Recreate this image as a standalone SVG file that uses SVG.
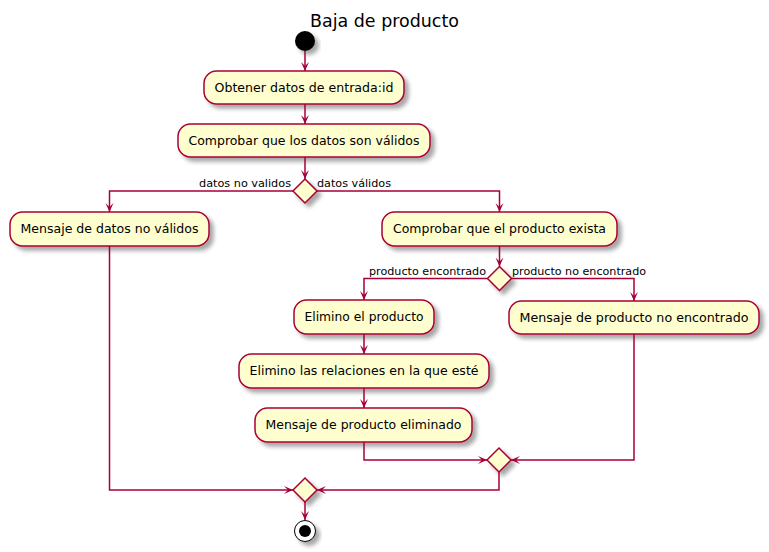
<svg xmlns="http://www.w3.org/2000/svg" width="769" height="552" viewBox="0 0 769 552">
<defs>
<filter id="sh" x="-20%" y="-30%" width="150%" height="180%">
<feGaussianBlur in="SourceAlpha" stdDeviation="2" result="b"/>
<feOffset in="b" dx="4" dy="4" result="o"/>
<feComponentTransfer in="o" result="s"><feFuncA type="linear" slope="0.35"/></feComponentTransfer>
<feMerge><feMergeNode in="s"/><feMergeNode in="SourceGraphic"/></feMerge>
</filter>
<marker id="ah" viewBox="0 0 10 10" refX="9" refY="5" markerWidth="10" markerHeight="10" markerUnits="userSpaceOnUse" orient="auto">
<path d="M0,1 L9,5 L0,9 L4,5 Z" fill="#A80036"/>
</marker>
</defs>
<style>
.box{fill:#FEFECE;stroke:#A80036;stroke-width:1.5;filter:url(#sh)}
.dia{fill:#FEFECE;stroke:#A80036;stroke-width:1.5;filter:url(#sh)}
.t{font-family:"DejaVu Sans",sans-serif;font-size:12.6px;fill:#000;text-anchor:middle}
.l{font-family:"DejaVu Sans",sans-serif;font-size:11px;fill:#000}
.c{fill:none;stroke:#A80036;stroke-width:1.5;marker-end:url(#ah)}
</style>
<rect width="769" height="552" fill="#FFFFFF"/>
<text x="384.5" y="27" font-family="DejaVu Sans, sans-serif" font-size="18" text-anchor="middle" textLength="149" lengthAdjust="spacingAndGlyphs">Baja de producto</text>

<g id="start"><circle cx="305" cy="41" r="10" fill="#000" filter="url(#sh)"/></g>

<g id="n1"><rect class="box" x="204" y="71" width="200" height="33" rx="12.5"/><text class="t" x="304" y="92" textLength="179" lengthAdjust="spacingAndGlyphs">Obtener datos de entrada:id</text></g>
<g id="n2"><rect class="box" x="178" y="124" width="252" height="33" rx="12.5"/><text class="t" x="304" y="145" textLength="231" lengthAdjust="spacingAndGlyphs">Comprobar que los datos son válidos</text></g>
<g id="d1"><polygon class="dia" points="305,179 317,191 305,203 293,191"/></g>
<g id="n3"><rect class="box" x="10" y="212" width="199" height="34" rx="12.5"/><text class="t" x="109.5" y="233" textLength="178" lengthAdjust="spacingAndGlyphs">Mensaje de datos no válidos</text></g>
<g id="n4"><rect class="box" x="382" y="212" width="235" height="34" rx="12.5"/><text class="t" x="499.5" y="233" textLength="213" lengthAdjust="spacingAndGlyphs">Comprobar que el producto exista</text></g>
<g id="d2"><polygon class="dia" points="499.5,266.5 511.5,278.5 499.5,290.5 487.5,278.5"/></g>
<g id="n5"><rect class="box" x="294" y="300" width="140" height="34" rx="12.5"/><text class="t" x="364" y="321" textLength="119" lengthAdjust="spacingAndGlyphs">Elimino el producto</text></g>
<g id="n6"><rect class="box" x="509" y="301" width="250" height="33" rx="12.5"/><text class="t" x="634" y="322" textLength="229" lengthAdjust="spacingAndGlyphs">Mensaje de producto no encontrado</text></g>
<g id="n7"><rect class="box" x="239" y="354" width="250" height="34" rx="12.5"/><text class="t" x="364" y="375" textLength="229" lengthAdjust="spacingAndGlyphs">Elimino las relaciones en la que esté</text></g>
<g id="n8"><rect class="box" x="255" y="408" width="217" height="34" rx="12.5"/><text class="t" x="363.5" y="429" textLength="196" lengthAdjust="spacingAndGlyphs">Mensaje de producto eliminado</text></g>
<g id="m2"><polygon class="dia" points="499,448 511,460 499,472 487,460"/></g>
<g id="m1"><polygon class="dia" points="305,478 317,490 305,502 293,490"/></g>
<g id="end"><circle cx="305" cy="531" r="10.5" fill="#FFFFFF" stroke="#000" stroke-width="1" filter="url(#sh)"/><circle cx="305" cy="531" r="6" fill="#000"/></g>

<g id="connectors">
<path class="c" d="M305,51 L305,71"/>
<path class="c" d="M305,104 L305,124"/>
<path class="c" d="M305,157 L305,179"/>
<path class="c" d="M293,191 L109.5,191 L109.5,212"/>
<path class="c" d="M317,191 L499.5,191 L499.5,212"/>
<path class="c" d="M499.5,246 L499.5,266.5"/>
<path class="c" d="M487.5,278.5 L364,278.5 L364,300"/>
<path class="c" d="M511.5,278.5 L634,278.5 L634,301"/>
<path class="c" d="M364,334 L364,354"/>
<path class="c" d="M364,388 L364,408"/>
<path class="c" d="M364,442 L364,460 L487,460"/>
<path class="c" d="M634,334 L634,460 L511,460"/>
<path class="c" d="M499,472 L499,490 L317,490"/>
<path class="c" d="M109.5,246 L109.5,490 L293,490"/>
<path class="c" d="M305,502 L305,520"/>
<text class="l" x="291" y="187" text-anchor="end" textLength="92" lengthAdjust="spacingAndGlyphs">datos no validos</text>
<text class="l" x="317" y="187" textLength="74" lengthAdjust="spacingAndGlyphs">datos válidos</text>
<text class="l" x="486" y="275" text-anchor="end" textLength="117" lengthAdjust="spacingAndGlyphs">producto encontrado</text>
<text class="l" x="512" y="275" textLength="134" lengthAdjust="spacingAndGlyphs">producto no encontrado</text>
</g>
</svg>
